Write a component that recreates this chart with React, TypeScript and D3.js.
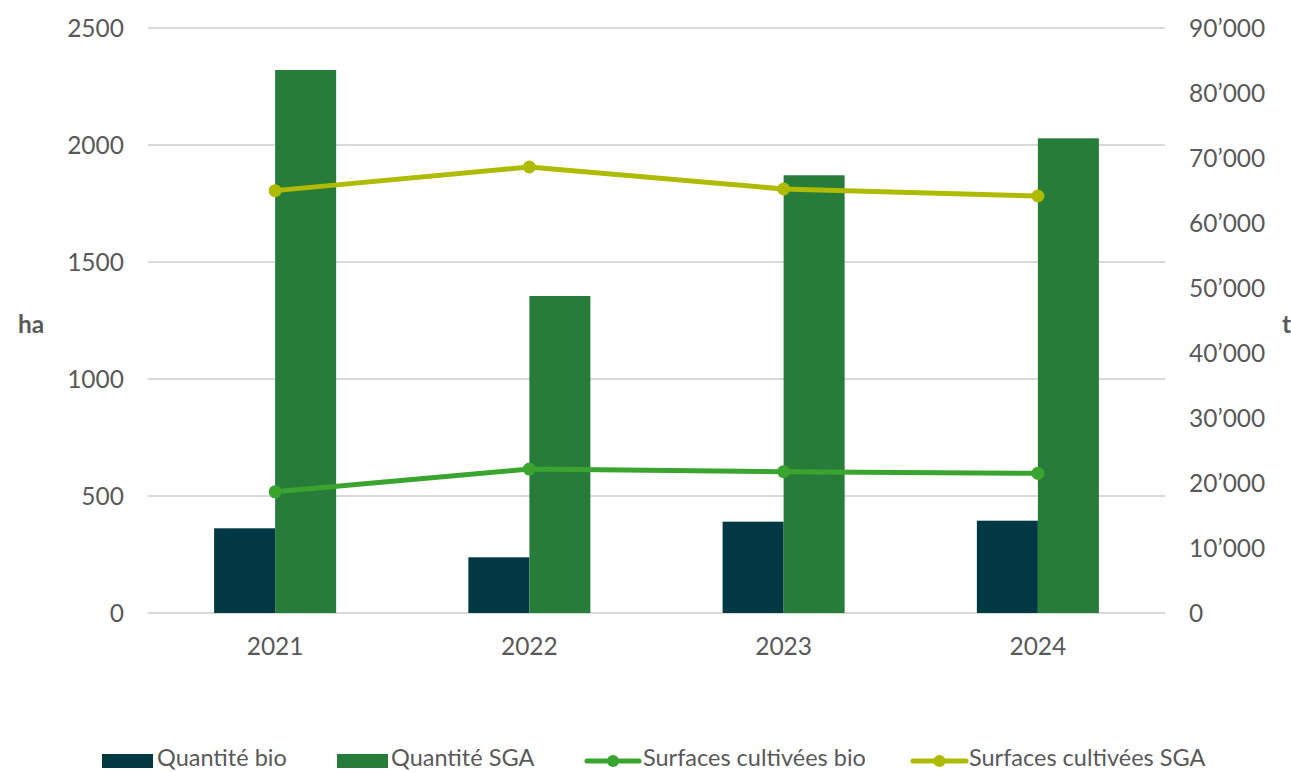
import React from "react";
import * as d3 from "d3";

const years = ["2021", "2022", "2023", "2024"];
const quantiteBio = [13030, 8570, 14050, 14200];
const quantiteSGA = [83540, 48770, 67340, 73030];
const surfacesBio = [518, 615, 604, 597];
const surfacesSGA = [1805, 1906, 1812, 1782];
const leftTicks = [0, 500, 1000, 1500, 2000, 2500];
const rightTicks = [0, 10000, 20000, 30000, 40000, 50000, 60000, 70000, 80000, 90000];

const W = 1291, H = 772;
const M = { l: 148, r: 1165, t: 28, b: 613 };
const FONT = "Lato, 'Open Sans', sans-serif";
const TXT = "#595959";
const C_BIO = "#003943";
const C_SGA = "#277C3A";
const C_LBIO = "#3AA52E";
const C_LSGA = "#AEBB00";

const fmtT = (v: number) => {
  if (v === 0) return "0";
  const s = d3.format(",")(v);
  return s.replace(/,/g, "\u2019");
};

export default function App() {
  const x = d3.scaleBand().domain(years).range([M.l, M.r]).paddingInner(0).paddingOuter(0);
  const yL = d3.scaleLinear().domain([0, 2500]).range([M.b, M.t]);
  const yR = d3.scaleLinear().domain([0, 90000]).range([M.b, M.t]);
  const bw = x.bandwidth() * 0.24;
  const cx = (y: string) => (x(y) as number) + x.bandwidth() / 2;
  const line = (vals: number[]) =>
    d3.line<number>().x((_, i) => cx(years[i])).y((d) => yL(d))(vals) as string;

  const legend = [
    { type: "rect", color: C_BIO, label: "Quantité bio", x0: 102, x1: 153, tx: 157 },
    { type: "rect", color: C_SGA, label: "Quantité SGA", x0: 337, x1: 388, tx: 391 },
    { type: "line", color: C_LBIO, label: "Surfaces cultivées bio", x0: 587, x1: 639, tx: 643 },
    { type: "line", color: C_LSGA, label: "Surfaces cultivées SGA", x0: 913, x1: 966, tx: 969 },
  ];
  const ly = 761;

  return (
    <svg width={W} height={H} style={{ position: "absolute", left: 0, top: 0, background: "#fff" }}>
      {leftTicks.map((t) => (
        <line key={t} x1={M.l} x2={M.r} y1={yL(t)} y2={yL(t)} stroke="#d9d9d9" strokeWidth={2} />
      ))}
      {leftTicks.map((t) => (
        <text key={"l" + t} x={124} y={yL(t)} dy="0.35em" textAnchor="end" fontFamily={FONT} fontSize={24.5} fill={TXT}>
          {t}
        </text>
      ))}
      {rightTicks.map((t) => (
        <text key={"r" + t} x={1189} y={yR(t)} dy="0.35em" textAnchor="start" fontFamily={FONT} fontSize={24.5} fill={TXT}>
          {fmtT(t)}
        </text>
      ))}
      <text x={18} y={324} dy="0.35em" fontFamily={FONT} fontSize={24.5} fontWeight={700} fill={TXT}>ha</text>
      <text x={1282} y={324} dy="0.35em" fontFamily={FONT} fontSize={24.5} fontWeight={700} fill={TXT}>t</text>
      {years.map((y, i) => (
        <g key={y}>
          <rect x={cx(y) - bw} y={yR(quantiteBio[i])} width={bw} height={M.b - yR(quantiteBio[i])} fill={C_BIO} />
          <rect x={cx(y)} y={yR(quantiteSGA[i])} width={bw} height={M.b - yR(quantiteSGA[i])} fill={C_SGA} />
          <text x={cx(y)} y={646} dy="0.35em" textAnchor="middle" fontFamily={FONT} fontSize={24.5} fill={TXT}>{y}</text>
        </g>
      ))}
      <path d={line(surfacesBio)} fill="none" stroke={C_LBIO} strokeWidth={5} strokeLinejoin="round" />
      {surfacesBio.map((v, i) => (
        <circle key={"b" + i} cx={cx(years[i])} cy={yL(v)} r={6.5} fill={C_LBIO} />
      ))}
      <path d={line(surfacesSGA)} fill="none" stroke={C_LSGA} strokeWidth={5} strokeLinejoin="round" />
      {surfacesSGA.map((v, i) => (
        <circle key={"s" + i} cx={cx(years[i])} cy={yL(v)} r={6.5} fill={C_LSGA} />
      ))}
      {legend.map((l) => (
        <g key={l.label}>
          {l.type === "rect" ? (
            <rect x={l.x0} y={ly - 7} width={l.x1 - l.x0} height={14} fill={l.color} />
          ) : (
            <g>
              <line x1={l.x0} x2={l.x1} y1={ly} y2={ly} stroke={l.color} strokeWidth={5} strokeLinecap="round" />
              <circle cx={(l.x0 + l.x1) / 2} cy={ly} r={6} fill={l.color} />
            </g>
          )}
          <text x={l.tx} y={765.5} fontFamily={FONT} fontSize={23.5} fill={TXT}>{l.label}</text>
        </g>
      ))}
    </svg>
  );
}
